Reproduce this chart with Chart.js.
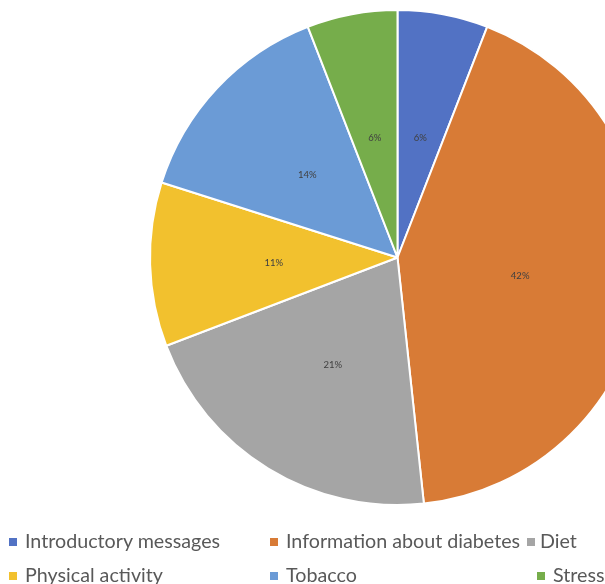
<!DOCTYPE html>
<html>
<head>
<meta charset="utf-8">
<script src="https://cdn.jsdelivr.net/npm/chart.js@4/dist/chart.umd.min.js"></script>
<style>
  html, body { margin: 0; padding: 0; background: #fff; overflow: hidden; }
  body { width: 605px; height: 584px; position: relative; }
  #wrap { position: absolute; left: 0; top: 0; width: 795px; height: 516px; }
  #legend { position: absolute; left: 0; top: 0; width: 605px; height: 584px; pointer-events: none;
            font-family: Lato, "Open Sans", sans-serif; font-size: 19.7px; color: #595959; }
  .txt { position: absolute; white-space: nowrap; line-height: 20px; }
  .box { position: absolute; width: 8px; height: 8px; }
</style>
</head>
<body>
<div id="wrap"><canvas id="pie"></canvas></div>
<div id="legend"></div>
<script>
const categories = ['Introductory messages', 'Information about diabetes', 'Diet',
                    'Physical activity', 'Tobacco', 'Stress'];
const shares = [5.9, 42.4, 20.9, 10.7, 14.2, 5.9];
const colors = ['#5272c4', '#d87b36', '#a5a5a5', '#f2c12e', '#6b9bd6', '#76ad4b'];

/* legend slots: box left, text left, row top (Excel-like two row layout) */
const legendSlots = [[9, 25, 531], [270, 286, 531], [527, 540, 531],
                     [9, 25, 565], [270, 286, 565], [537, 553, 565]];

/* Percent labels at the middle of each slice */
const sliceLabels = {
    id: 'sliceLabels',
    afterDatasetsDraw(chart) {
        const ctx = chart.ctx;
        const meta = chart.getDatasetMeta(0);
        const data = chart.data.datasets[0].data;
        const total = data.reduce((a, b) => a + b, 0);
        ctx.save();
        ctx.font = '9.5px Lato, "Open Sans", sans-serif';
        ctx.fillStyle = '#404040';
        ctx.textAlign = 'center';
        ctx.textBaseline = 'middle';
        meta.data.forEach((arc, i) => {
            const p = arc.tooltipPosition();
            ctx.fillText(Math.round(data[i] / total * 100) + '%', p.x, p.y + 2);
        });
        ctx.restore();
    }
};

new Chart(document.getElementById('pie'), {
    type: 'pie',
    data: {
        labels: categories,
        datasets: [{
            data: shares,
            backgroundColor: colors,
            borderColor: '#ffffff',
            borderWidth: 2
        }]
    },
    options: {
        responsive: true,
        maintainAspectRatio: false,
        animation: false,
        layout: { padding: { top: 9, bottom: 10 } },
        plugins: {
            legend: { display: false },
            tooltip: { enabled: false }
        }
    },
    plugins: [sliceLabels]
});

/* HTML legend built from the same arrays */
const legend = document.getElementById('legend');
categories.forEach((name, i) => {
    const [boxX, textX, top] = legendSlots[i];
    const box = document.createElement('div');
    box.className = 'box';
    box.style.left = boxX + 'px';
    box.style.top = (top + 7) + 'px';
    box.style.background = colors[i];
    legend.appendChild(box);

    const txt = document.createElement('div');
    txt.className = 'txt';
    txt.style.left = textX + 'px';
    txt.style.top = top + 'px';
    txt.textContent = name;
    legend.appendChild(txt);
});
</script>
</body>
</html>
